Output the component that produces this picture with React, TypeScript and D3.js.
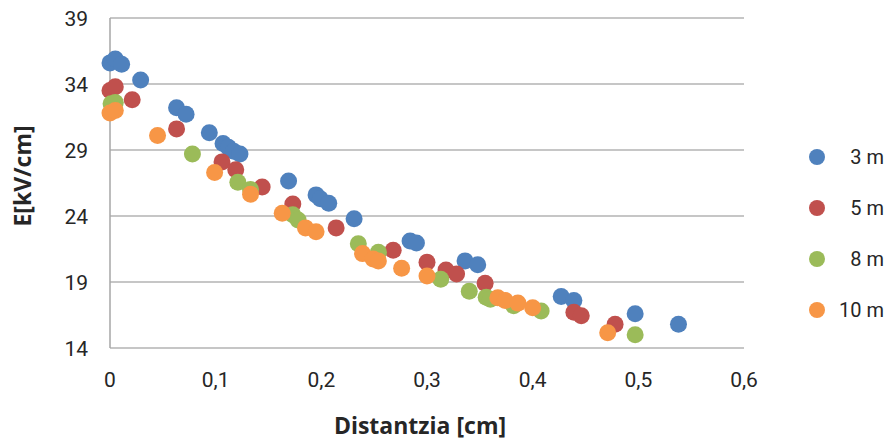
import React, { useEffect, useRef } from 'react'
import * as d3 from 'd3'

// distanza [cm] / campo [kV/cm] per ogni serie
const seriesNames = ['3 m', '5 m', '8 m', '10 m']
const seriesColors = ['#4F81BD', '#C0504D', '#9BBB59', '#F79646']

const x3 = [0.0, 0.005, 0.011, 0.029, 0.063, 0.072, 0.094, 0.107, 0.112, 0.117, 0.123, 0.169, 0.195, 0.199, 0.207, 0.231, 0.284, 0.290, 0.336, 0.348, 0.427, 0.439, 0.497, 0.538]
const y3 = [35.6, 35.9, 35.5, 34.3, 32.2, 31.7, 30.3, 29.5, 29.2, 28.9, 28.7, 26.65, 25.6, 25.3, 24.96, 23.8, 22.1, 21.95, 20.6, 20.3, 17.9, 17.6, 16.6, 15.8]

const x5 = [0.0, 0.005, 0.021, 0.063, 0.106, 0.119, 0.144, 0.173, 0.214, 0.268, 0.300, 0.318, 0.328, 0.355, 0.439, 0.446, 0.478]
const y5 = [33.5, 33.8, 32.8, 30.6, 28.1, 27.5, 26.2, 24.9, 23.1, 21.4, 20.5, 19.9, 19.6, 18.9, 16.7, 16.45, 15.8]

const x8 = [0.001, 0.005, 0.078, 0.121, 0.133, 0.173, 0.178, 0.235, 0.254, 0.313, 0.340, 0.356, 0.360, 0.382, 0.408, 0.497]
const y8 = [32.5, 32.6, 28.7, 26.55, 26.0, 24.1, 23.7, 21.9, 21.25, 19.2, 18.3, 17.85, 17.7, 17.2, 16.8, 15.0]

const x10 = [0.0, 0.005, 0.045, 0.099, 0.133, 0.163, 0.185, 0.195, 0.239, 0.249, 0.254, 0.276, 0.300, 0.367, 0.374, 0.386, 0.400, 0.471]
const y10 = [31.8, 32.0, 30.1, 27.3, 25.65, 24.2, 23.1, 22.8, 21.15, 20.75, 20.6, 20.05, 19.45, 17.8, 17.6, 17.4, 17.05, 15.15]

const xTicks = [0, 0.1, 0.2, 0.3, 0.4, 0.5, 0.6]
const yTicks = [14, 19, 24, 29, 34, 39]

const W = 886
const H = 443
const font = 'Roboto, "Liberation Sans", sans-serif'
const titleFont = '"Open Sans", Roboto, sans-serif'

export default function App() {
  const ref = useRef<SVGSVGElement>(null)

  useEffect(() => {
    const svg = d3.select(ref.current)
    svg.selectAll('*').remove()

    const x = d3.scaleLinear().domain([0, 0.6]).range([110, 744])
    const y = d3.scaleLinear().domain([14, 39]).range([348, 18])

    // griglia orizzontale
    svg.append('g')
      .selectAll('line')
      .data(yTicks)
      .enter()
      .append('line')
      .attr('x1', x(0))
      .attr('x2', x(0.6))
      .attr('y1', d => y(d))
      .attr('y2', d => y(d))
      .attr('stroke', '#b3b3b3')
      .attr('stroke-width', 1.5)

    // asse y
    svg.append('line')
      .attr('x1', x(0)).attr('x2', x(0))
      .attr('y1', y(39)).attr('y2', y(14))
      .attr('stroke', '#a6a6a6')
      .attr('stroke-width', 1.5)

    svg.append('g')
      .selectAll('text')
      .data(yTicks)
      .enter()
      .append('text')
      .attr('x', 88)
      .attr('y', d => y(d))
      .attr('dy', '0.36em')
      .attr('text-anchor', 'end')
      .style('font-family', font)
      .style('font-size', '21px')
      .attr('fill', '#262626')
      .text(d => d)

    svg.append('g')
      .selectAll('text')
      .data(xTicks)
      .enter()
      .append('text')
      .attr('x', d => x(d))
      .attr('y', 387)
      .attr('text-anchor', 'middle')
      .style('font-family', font)
      .style('font-size', '21px')
      .attr('fill', '#262626')
      .text(d => d3.format('.1~f')(d).replace('.', ','))

    svg.append('text')
      .attr('x', 420)
      .attr('y', 434)
      .attr('text-anchor', 'middle')
      .style('font-family', titleFont)
      .style('font-size', '23px')
      .style('font-weight', 'bold')
      .attr('fill', '#262626')
      .text('Distantzia [cm]')

    svg.append('text')
      .attr('transform', 'translate(31,176) rotate(-90)')
      .attr('text-anchor', 'middle')
      .style('font-family', titleFont)
      .style('font-size', '23px')
      .style('font-weight', 'bold')
      .attr('fill', '#262626')
      .text('E[kV/cm]')

    const xs = [x3, x5, x8, x10]
    const ys = [y3, y5, y8, y10]

    xs.forEach((xv, i) => {
      svg.append('g')
        .selectAll('circle')
        .data(xv.map((v, j) => [v, ys[i][j]]))
        .enter()
        .append('circle')
        .attr('cx', d => x(d[0]))
        .attr('cy', d => y(d[1]))
        .attr('r', 8.5)
        .attr('fill', seriesColors[i])
    })

    // legenda
    const leg = svg.append('g')
      .selectAll('g')
      .data(seriesNames)
      .enter()
      .append('g')
      .attr('transform', (d, i) => 'translate(0,' + (157 + i * 51) + ')')

    leg.append('circle')
      .attr('cx', 817)
      .attr('cy', 0)
      .attr('r', 8)
      .attr('fill', (d, i) => seriesColors[i])

    leg.append('text')
      .attr('x', 884)
      .attr('y', 0)
      .attr('dy', '0.36em')
      .attr('text-anchor', 'end')
      .style('font-family', font)
      .style('font-size', '20px')
      .attr('fill', '#262626')
      .text(d => d)
  }, [])

  return (
    <svg ref={ref} width={W} height={H}
      style={{ position: 'absolute', left: 0, top: 0, background: '#fff' }} />
  )
}
